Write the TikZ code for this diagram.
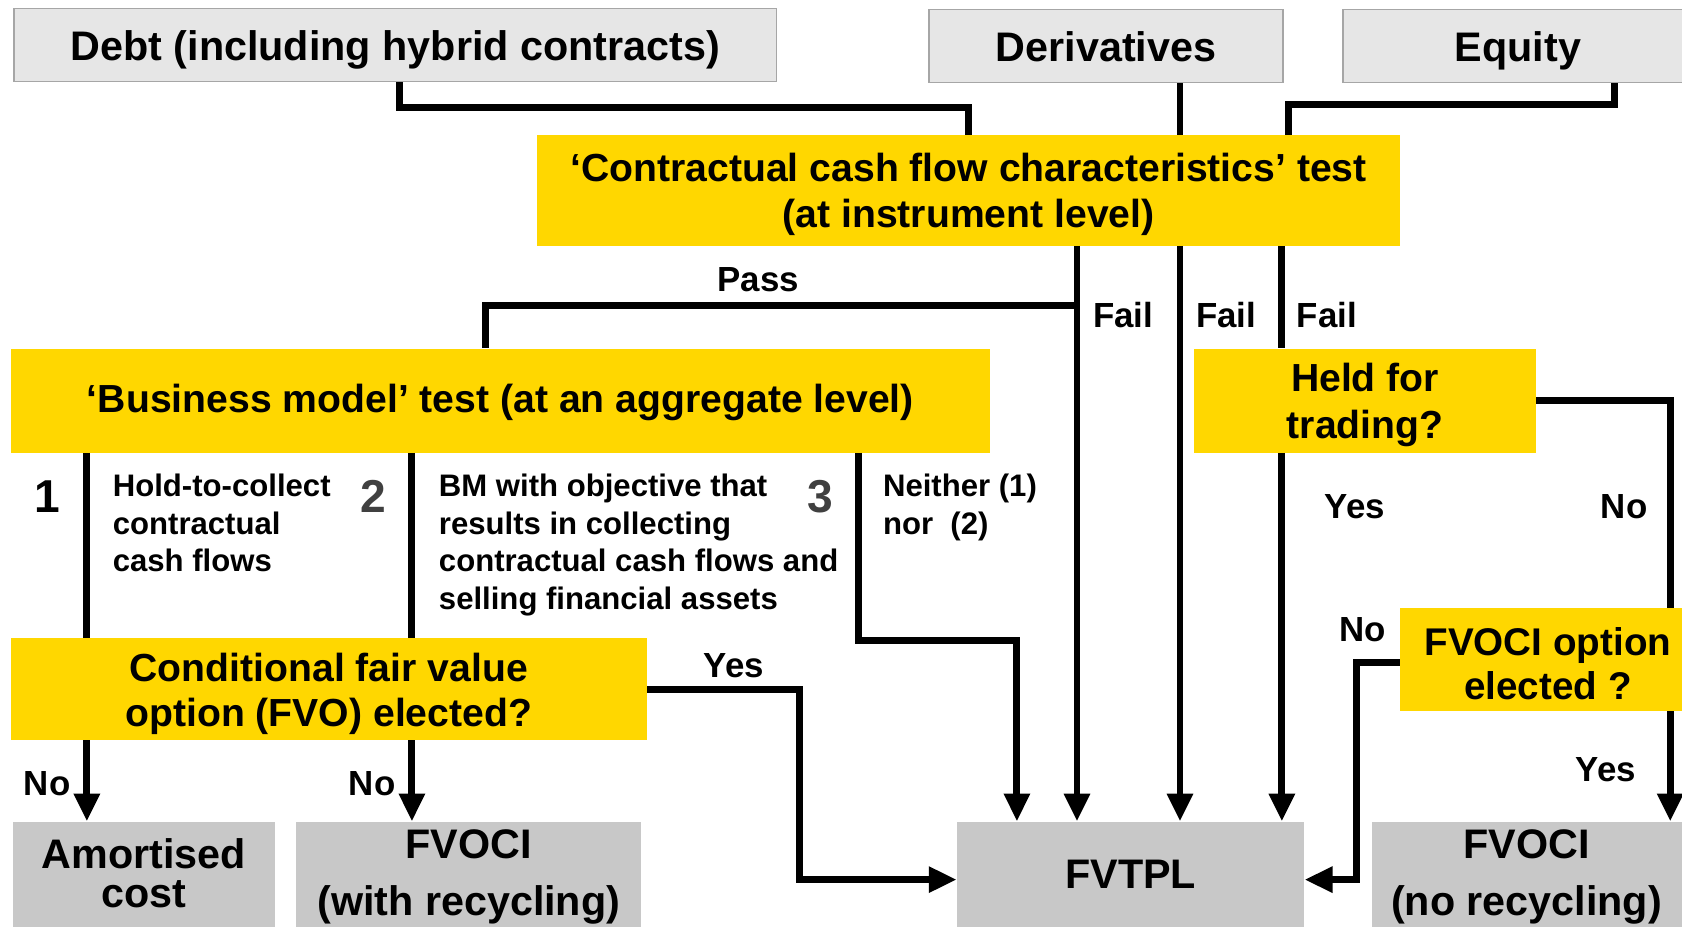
\documentclass[tikz,border=0pt]{standalone}
\usepackage{fontspec}
\setmainfont{Liberation Sans}
\usetikzlibrary{arrows.meta,calc}
\definecolor{ybox}{HTML}{FFD700}
\definecolor{tbox}{HTML}{E6E6E6}
\definecolor{tline}{HTML}{A6A6A6}
\definecolor{rbox}{HTML}{C8C8C8}
\definecolor{numgray}{HTML}{404040}

\begin{document}
\begin{tikzpicture}[x=1pt,y=-1pt,
  srcbox/.style={fill=tbox,draw=tline,line width=1.2pt,inner sep=0pt,text depth=0pt,
    font=\fontsize{38.5}{44}\selectfont\bfseries},
  testbox/.style={fill=ybox,inner sep=0pt},
  resbox/.style={fill=rbox,inner sep=0pt},
  boxtxt/.style={inner sep=0pt,align=center,font=\fontsize{36.5}{43}\selectfont\bfseries},
  restxt/.style={inner sep=0pt,align=center,font=\fontsize{38.5}{53}\selectfont\bfseries},
  conn/.style={line width=6.5pt},
  arr/.style={line width=6.5pt,-{Triangle[length=26pt,width=23pt]}},
  lbl/.style={inner sep=0pt,anchor=base,font=\fontsize{32.5}{38}\selectfont\bfseries},
  note/.style={inner sep=0pt,anchor=north west,align=left,
    font=\fontsize{29}{35}\selectfont\bfseries},
  num/.style={inner sep=0pt,anchor=base,font=\fontsize{43}{50}\selectfont\bfseries}
]
\useasboundingbox (0,0) rectangle (1568,864);
\fill[white] (0,0) rectangle (1568,864);
\clip (0,0) rectangle (1568,864);

% instrument types
\node[srcbox,minimum width=711pt,minimum height=68pt] (debt) at (368.5,42) {Debt (including hybrid contracts)};
\node[srcbox,minimum width=330pt,minimum height=68pt] (deriv) at (1031,43) {Derivatives};
\node[srcbox,minimum width=326pt,minimum height=68pt] (equity) at (1415,43) {Equity};

% tests
\node[testbox,minimum width=804pt,minimum height=103pt] (ccf) at (903,177.5) {};
\node[boxtxt] (ccf-t) at (903,181.5) {‘Contractual cash flow characteristics’ test\\(at instrument level)};
\node[testbox,minimum width=913pt,minimum height=97pt] (bm) at (466.5,373.5) {};
\node[boxtxt] (bm-t) at (466.5,375) {‘Business model’ test (at an aggregate level)};
\node[testbox,minimum width=319pt,minimum height=97pt] (hft) at (1272.5,373.5) {};
\node[boxtxt] (hft-t) at (1272.5,377.5) {Held for\\trading?};
\node[testbox,minimum width=593pt,minimum height=95pt] (cfv) at (306.5,642.5) {};
\node[boxtxt,font=\fontsize{36.5}{42}\selectfont\bfseries] (cfv-t) at (306.5,646.5) {Conditional fair value\\option (FVO) elected?};
\node[testbox,minimum width=276pt,minimum height=96pt] (fvo) at (1443,615) {};
\node[boxtxt,font=\fontsize{36}{41}\selectfont\bfseries] (fvo-t) at (1443,619) {FVOCI option\\elected ?};

% measurement outcomes
\node[resbox,minimum width=244pt,minimum height=98pt] (amort) at (134,815) {};
\node[restxt,font=\fontsize{38.5}{37}\selectfont\bfseries] (amort-t) at (134,814) {Amortised\\cost};
\node[resbox,minimum width=322pt,minimum height=98pt] (fvocir) at (437,815) {};
\node[restxt] (fvocir-t) at (437,817.5) {FVOCI\\(with recycling)};
\node[resbox,minimum width=324pt,minimum height=98pt] (fvtpl) at (1054,815) {};
\node[restxt] (fvtpl-t) at (1054,815) {FVTPL};
\node[resbox,minimum width=291pt,minimum height=98pt] (fvocinr) at (1424.5,815) {};
\node[restxt] (fvocinr-t) at (1423,817.5) {FVOCI\\(no recycling)};

% feeds into the cash flow test
\draw[conn] ($(debt.south)+(3.5,0)$) -- ++(0,24) -| (ccf.north);
\draw[conn] ($(deriv.south)+(69,0)$) -- ($(ccf.north)+(197,0)$);
\draw[conn] ($(equity.south)+(90,0)$) -- ++(0,20) -| ($(ccf.north)+(298,0)$);

% cash flow test outcomes
\draw[arr] ($(ccf.south)+(101,0)$) -- ($(fvtpl.north)+(-50,0)$);
\draw[conn] ($(ccf.south)+(101,56)$) -| ($(bm.north)+(-13.5,0)$);
\draw[arr] ($(ccf.south)+(197,0)$) -- ($(fvtpl.north)+(46,0)$);
\draw[conn] ($(ccf.south)+(292,0)$) -- ($(hft.north)+(-77.5,0)$);

% equity path
\draw[arr] ($(hft.south)+(-77.5,0)$) -- ($(fvtpl.north)+(141,0)$);
\draw[conn] (hft.east) -| ($(fvo.north)+(114,0)$);
\draw[arr] ($(fvo.south)+(114,0)$) -- ($(fvocinr.north)+(132.5,0)$);
\draw[arr] ($(fvo.west)+(0,3)$) -- ++(-40,0) |- ($(fvtpl.east)+(0,5)$);

% business model outcomes
\draw[conn] ($(bm.south)+(-385.5,0)$) -- ($(cfv.north)+(-225.5,0)$);
\draw[conn] ($(bm.south)+(-82.5,0)$) -- ($(cfv.north)+(77.5,0)$);
\draw[arr] ($(bm.south)+(333.5,0)$) -- ++(0,175) -| ($(fvtpl.north)+(-106,0)$);

% fair value option outcomes
\draw[arr] ($(cfv.south)+(-225.5,0)$) -- ($(amort.north)+(-53,0)$);
\draw[arr] ($(cfv.south)+(77.5,0)$) -- ($(fvocir.north)+(-53,0)$);
\draw[arr] (cfv.east) -- ++(142,0) |- ($(fvtpl.west)+(0,5)$);

% branch labels
\node[lbl] (lpass) at (707,271.6) {Pass};
\node[lbl] (lfail1) at (1047,305.6) {Fail};
\node[lbl] (lfail2) at (1143,305.6) {Fail};
\node[lbl] (lfail3) at (1237,305.6) {Fail};
\node[lbl] (lyes1) at (1263,483.6) {Yes};
\node[lbl] (lno1) at (1514,483.6) {No};
\node[lbl] (lno2) at (1270,597.6) {No};
\node[lbl] (lyes2) at (684,631.6) {Yes};
\node[lbl] (lno3) at (44,741.6) {No};
\node[lbl] (lno4) at (347,741.6) {No};
\node[lbl] (lyes3) at (1497,728.6) {Yes};

% business model descriptions
\node[num] (n1) at (44,477.4) {1};
\node[num,text=numgray] (n2) at (348,477.4) {2};
\node[num,text=numgray] (n3) at (765,477.4) {3};
\node[note] (d1) at (105,442) {Hold-to-collect\\contractual\\cash flows};
\node[note] (d2) at (409,442) {BM with objective that\\results in collecting\\contractual cash flows and\\selling financial assets};
\node[note] (d3) at (823,442) {Neither (1)\\nor\ \ (2)};
\end{tikzpicture}
\end{document}
